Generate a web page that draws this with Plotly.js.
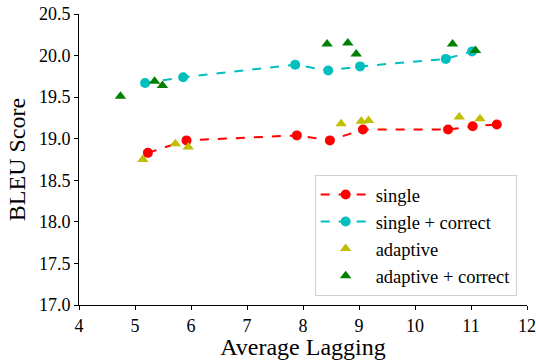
<!DOCTYPE html>
<html><head><meta charset="utf-8">
<script src="https://cdn.plot.ly/plotly-3.0.1.min.js"></script>
<style>body{margin:0;background:#fff}#c{width:536px;height:360px}</style>
</head><body><div id="c"></div>
<script>
const singleX = [5.23, 5.92, 7.89, 8.48, 9.07, 10.59, 11.03, 11.46];
const singleY = [18.83, 18.98, 19.04, 18.98, 19.11, 19.11, 19.15, 19.17];
const singleCorrX = [5.18, 5.86, 7.86, 8.45, 9.02, 10.55, 11.02];
const singleCorrY = [19.67, 19.74, 19.89, 19.82, 19.87, 19.96, 20.05];
const adaptiveX = [5.14, 5.72, 5.95, 8.68, 9.04, 9.17, 10.79, 11.16];
const adaptiveY = [18.75, 18.94, 18.90, 19.18, 19.21, 19.22, 19.26, 19.24];
const adaptiveCorrX = [4.74, 5.35, 5.49, 8.43, 8.80, 8.95, 10.67, 11.08];
const adaptiveCorrY = [19.51, 19.69, 19.64, 20.14, 20.15, 20.02, 20.14, 20.06];
const seriesNames = ["single", "single + correct", "adaptive", "adaptive + correct"];
const xTicks = [4,5,6,7,8,9,10,11,12];
const yTicks = [17.0,17.5,18.0,18.5,19.0,19.5,20.0,20.5];

const font = "Liberation Serif";
const traces = [
  {x: singleX, y: singleY, name: seriesNames[0], mode: "lines+markers",
   line: {color: "#ff0000", dash: "dash", width: 2}, marker: {color: "#ff0000", size: 10, symbol: "circle"}},
  {x: singleCorrX, y: singleCorrY, name: seriesNames[1], mode: "lines+markers",
   line: {color: "#00bfbf", dash: "dash", width: 2}, marker: {color: "#00bfbf", size: 10, symbol: "circle"}},
  {x: adaptiveX, y: adaptiveY, name: seriesNames[2], mode: "markers",
   marker: {color: "#bfbf00", size: 10, symbol: "triangle-up"}},
  {x: adaptiveCorrX, y: adaptiveCorrY, name: seriesNames[3], mode: "markers",
   marker: {color: "#008000", size: 10, symbol: "triangle-up"}}
];
const layout = {
  width: 536, height: 360,
  margin: {l: 79, r: 9, t: 14, b: 55},
  paper_bgcolor: "#fff", plot_bgcolor: "#fff",
  font: {family: font, color: "#000", size: 18},
  showlegend: true,
  xaxis: {range: [4, 12], tickvals: xTicks, ticktext: xTicks.map(String),
    tickfont: {family: font, size: 18, color: "#000"},
    showgrid: false, zeroline: false, showline: true, linecolor: "#000", linewidth: 1,
    ticks: "outside", ticklen: 4, tickcolor: "#000",
    title: {text: "Average Lagging", font: {family: font, size: 24, color: "#000"}, standoff: 4}},
  yaxis: {range: [17.0, 20.5], tickvals: yTicks, ticktext: yTicks.map(v => v.toFixed(1)),
    tickfont: {family: font, size: 18, color: "#000"},
    showgrid: false, zeroline: false, showline: true, linecolor: "#000", linewidth: 1,
    ticks: "outside", ticklen: 4, tickcolor: "#000",
    title: {text: "BLEU Score", font: {family: font, size: 24, color: "#000"}, standoff: 6}},
  legend: {x: 0.526, y: 0.031, xanchor: "left", yanchor: "bottom",
    bgcolor: "#fff", bordercolor: "#d0d0d0", borderwidth: 1,
    font: {family: font, size: 18.5, color: "#000"}, tracegroupgap: 0, itemwidth: 50}
};
Plotly.newPlot("c", traces, layout, {displayModeBar: false, staticPlot: true});
</script></body></html>
